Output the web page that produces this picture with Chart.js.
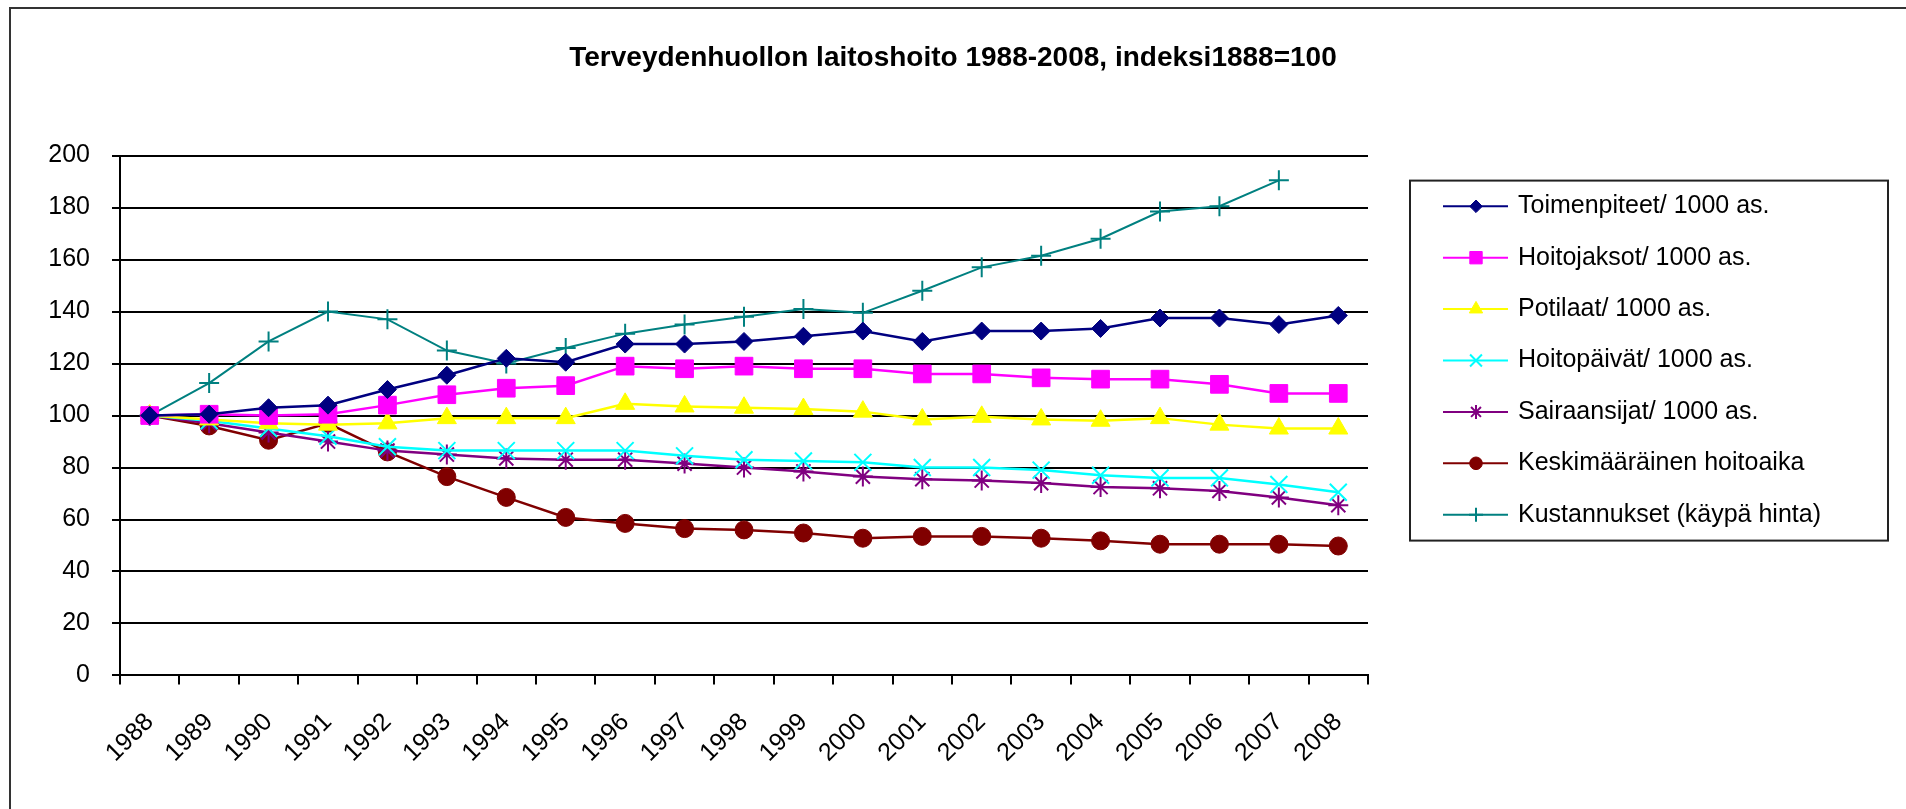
<!DOCTYPE html>
<html>
<head>
<meta charset="utf-8">
<script src="https://cdn.jsdelivr.net/npm/chart.js"></script>
<style>
  html, body { margin: 0; padding: 0; background: #fff; overflow: hidden; }
  #wrap { position: absolute; left: 0; top: 0; width: 1906px; height: 809px; }
  #frame { position: absolute; left: 9px; top: 7px; width: 2000px; height: 900px;
           border-left: 2px solid #333; border-top: 2px solid #333; pointer-events: none; }
</style>
</head>
<body>
<div id="wrap"><canvas id="chart"></canvas></div>
<div id="frame"></div>
<script>
const years = ['1988', '1989', '1990', '1991', '1992', '1993', '1994', '1995', '1996', '1997', '1998',
  '1999', '2000', '2001', '2002', '2003', '2004', '2005', '2006', '2007', '2008'];

const toimenpiteet = [100, 100.5, 103, 104, 110, 115.5, 122, 120.5, 127.5, 127.5, 128.5, 130.5, 132.5, 128.5, 132.5, 132.5, 133.5, 137.5, 137.5, 135, 138.5];
const hoitojaksot = [100, 100.5, 100, 100.5, 104, 108, 110.5, 111.5, 119, 118, 119, 118, 118, 116, 116, 114.5, 114, 114, 112, 108.5, 108.5];
const potilaat = [100, 98.5, 97, 96.5, 97, 99, 99, 99, 104.5, 103.5, 103, 102.5, 101.5, 98.5, 99.5, 98.5, 98, 99, 96.5, 95, 95];
const hoitopaivat = [100, 98, 95, 92, 88, 86.5, 86.5, 86.5, 86.5, 84.5, 83, 82.5, 82, 80, 80, 79, 77, 76, 76, 73.5, 70.5];
const sairaansijat = [100, 97, 93.5, 90, 86.5, 85, 83.5, 83, 83, 81.5, 80, 78.5, 76.5, 75.5, 75, 74, 72.5, 72, 71, 68.5, 65.5];
const hoitoaika = [100, 96, 90.5, 97, 86, 76.5, 68.5, 60.8, 58.5, 56.5, 56, 54.8, 52.8, 53.5, 53.5, 52.8, 51.8, 50.5, 50.5, 50.5, 49.8];
const kustannukset = [100, 112.5, 128.5, 140, 137, 125, 120, 126, 131.5, 135, 138, 141, 139.5, 148, 157, 161.5, 168, 178.5, 180.5, 190.5, null];

const yTicks = [0, 20, 40, 60, 80, 100, 120, 140, 160, 180, 200];

const FONT = '"Liberation Sans", Arial, sans-serif';

function series(label, data, color, style, radius, bw, lw) {
  return {
    label: label,
    data: data,
    borderColor: color,
    backgroundColor: color,
    pointBackgroundColor: color,
    pointBorderColor: color,
    pointStyle: style,
    pointRadius: radius,
    pointHoverRadius: radius,
    pointBorderWidth: bw,
    borderWidth: lw,
    tension: 0,
    spanGaps: false
  };
}

// legend drawn as a framed box like the Excel original
const boxLegend = {
  id: 'boxLegend',
  afterDraw(chart) {
    const ctx = chart.ctx;
    const area = chart.chartArea;
    const left = area.right + 42;
    const top = area.top + 25;
    ctx.save();
    ctx.strokeStyle = '#222';
    ctx.lineWidth = 2;
    ctx.strokeRect(left, top, 478, 360);
    chart.data.datasets.forEach((ds, i) => {
      const y = top + 25.7 + i * 51.4;
      ctx.strokeStyle = ds.borderColor;
      ctx.lineWidth = 2;
      ctx.beginPath();
      ctx.moveTo(left + 33, y);
      ctx.lineTo(left + 98, y);
      ctx.stroke();
      ctx.fillStyle = ds.pointBackgroundColor;
      ctx.lineWidth = ds.pointBorderWidth;
      Chart.helpers.drawPoint(ctx, {
        pointStyle: ds.pointStyle,
        radius: ds.pointRadius * 0.7,
        borderWidth: ds.pointBorderWidth,
        rotation: 0
      }, left + 66, y);
      ctx.fillStyle = '#000';
      ctx.font = '25px ' + FONT;
      ctx.textBaseline = 'middle';
      ctx.textAlign = 'left';
      ctx.fillText(ds.label, left + 108, y);
    });
    ctx.restore();
  }
};

new Chart(document.getElementById('chart'), {
  type: 'line',
  data: {
    labels: years,
    datasets: [
      series('Toimenpiteet/ 1000 as.', toimenpiteet, '#000080', 'rectRot', 9, 1, 2.5),
      series('Hoitojaksot/ 1000 as.', hoitojaksot, '#FF00FF', 'rect', 12.5, 1, 2.5),
      series('Potilaat/ 1000 as.', potilaat, '#FFFF00', 'triangle', 11, 1, 2.5),
      series('Hoitopäivät/ 1000 as.', hoitopaivat, '#00FFFF', 'crossRot', 12, 2, 2.5),
      series('Sairaansijat/ 1000 as.', sairaansijat, '#800080', 'star', 10, 2, 2.5),
      series('Keskimääräinen hoitoaika', hoitoaika, '#800000', 'circle', 9, 1, 2.5),
      series('Kustannukset (käypä hinta)', kustannukset, '#008080', 'cross', 10, 2, 2)
    ]
  },
  options: {
    responsive: true,
    maintainAspectRatio: false,
    animation: false,
    layout: {
      padding: { left: 0, right: 0, top: 0, bottom: 18 }
    },
    plugins: {
      legend: { display: false },
      tooltip: { enabled: false },
      title: {
        display: true,
        text: 'Terveydenhuollon laitoshoito 1988-2008, indeksi1888=100',
        color: '#000',
        font: { family: FONT, size: 28, weight: 'bold' },
        padding: { top: 41, bottom: 81 }
      }
    },
    scales: {
      x: {
        offset: true,
        afterFit: (s) => { s.paddingLeft = 0; s.paddingRight = 0; },
        grid: {
          offset: true,
          drawOnChartArea: false,
          drawTicks: true,
          tickLength: 9,
          color: '#000',
          lineWidth: 2
        },
        border: { display: true, color: '#000', width: 2 },
        ticks: {
          color: '#000',
          font: { family: FONT, size: 25 },
          minRotation: 45,
          maxRotation: 45,
          autoSkip: false,
          padding: 23
        }
      },
      y: {
        min: 0,
        max: 200,
        afterFit: (s) => { s.width = 120; },
        afterBuildTicks: (axis) => { axis.ticks = yTicks.map(v => ({ value: v })); },
        grid: {
          color: '#000',
          lineWidth: 2,
          drawTicks: true,
          tickLength: 8
        },
        border: { display: true, color: '#000', width: 2 },
        ticks: {
          color: '#000',
          font: { family: FONT, size: 25 },
          padding: 22
        }
      },
      // empty axis on the right keeps room for the boxed legend
      legendSpace: {
        type: 'linear',
        position: 'right',
        display: true,
        afterFit: (s) => { s.width = 538; },
        grid: { display: false },
        border: { display: false },
        ticks: { display: false }
      }
    }
  },
  plugins: [boxLegend]
});
</script>
</body>
</html>
